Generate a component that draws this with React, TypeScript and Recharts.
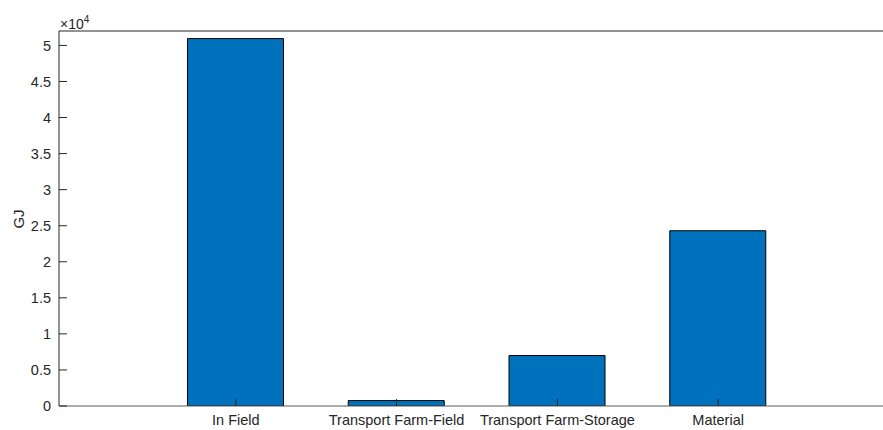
import { Bar, BarChart, ReferenceLine, XAxis, YAxis } from "recharts";

const categories = [
  "In Field",
  "Transport Farm-Field",
  "Transport Farm-Storage",
  "Material",
];
const positions = [1, 2, 3, 4];
const energyGJ = [50950, 750, 7000, 24300];
const yTicks = [0, 5000, 10000, 15000, 20000, 25000, 30000, 35000, 40000, 45000, 50000];

const data = positions.map((x, i) => ({ x, name: categories[i], value: energyGJ[i] }));

const axisColor = "#262626";
const font = "'Liberation Sans', Arial, sans-serif";

/** MATLAB-style bar chart of energy use per stage. */
export default function App() {
  return (
    <div
      style={{
        position: "absolute",
        left: 0,
        top: 0,
        width: 883,
        height: 430,
        overflow: "hidden",
        background: "#fff",
        fontFamily: font,
      }}
    >
      <BarChart
        width={900}
        height={430}
        data={data}
        margin={{ top: 31, right: 5, left: 0, bottom: 0 }}
      >
        <XAxis
          dataKey="x"
          type="number"
          domain={[-0.1, 5.1]}
          ticks={positions}
          allowDataOverflow
          tickFormatter={(v: number) => categories[v - 1] ?? ""}
          tickSize={-7}
          tickMargin={16}
          height={24}
          stroke="#5a5a5a"
          tickLine={{ stroke: axisColor }}
          tick={{ fill: axisColor, fontSize: 14.5, fontFamily: font }}
        />
        <YAxis
          domain={[0, 52000]}
          ticks={yTicks}
          allowDataOverflow
          width={59}
          tickFormatter={(v: number) => String(v / 10000)}
          tickSize={-8}
          tickMargin={16}
          stroke={axisColor}
          tick={{ fill: axisColor, fontSize: 14.5, fontFamily: font }}
        />
        <ReferenceLine y={52000} stroke={axisColor} strokeWidth={1} />
        <Bar
          dataKey="value"
          fill="#0072BD"
          stroke="#000"
          strokeWidth={1}
          barSize={96}
          isAnimationActive={false}
        />
      </BarChart>
      <div
        style={{
          position: "absolute",
          left: 60,
          top: 12,
          fontSize: 14,
          color: axisColor,
          lineHeight: "16px",
        }}
      >
        ×10<sup style={{ fontSize: 10, verticalAlign: "6px" }}>4</sup>
      </div>
      <div
        style={{
          position: "absolute",
          left: 18,
          top: 219,
          fontSize: 15,
          color: axisColor,
          transform: "translate(-50%, -50%) rotate(-90deg)",
          whiteSpace: "nowrap",
        }}
      >
        GJ
      </div>
    </div>
  );
}
